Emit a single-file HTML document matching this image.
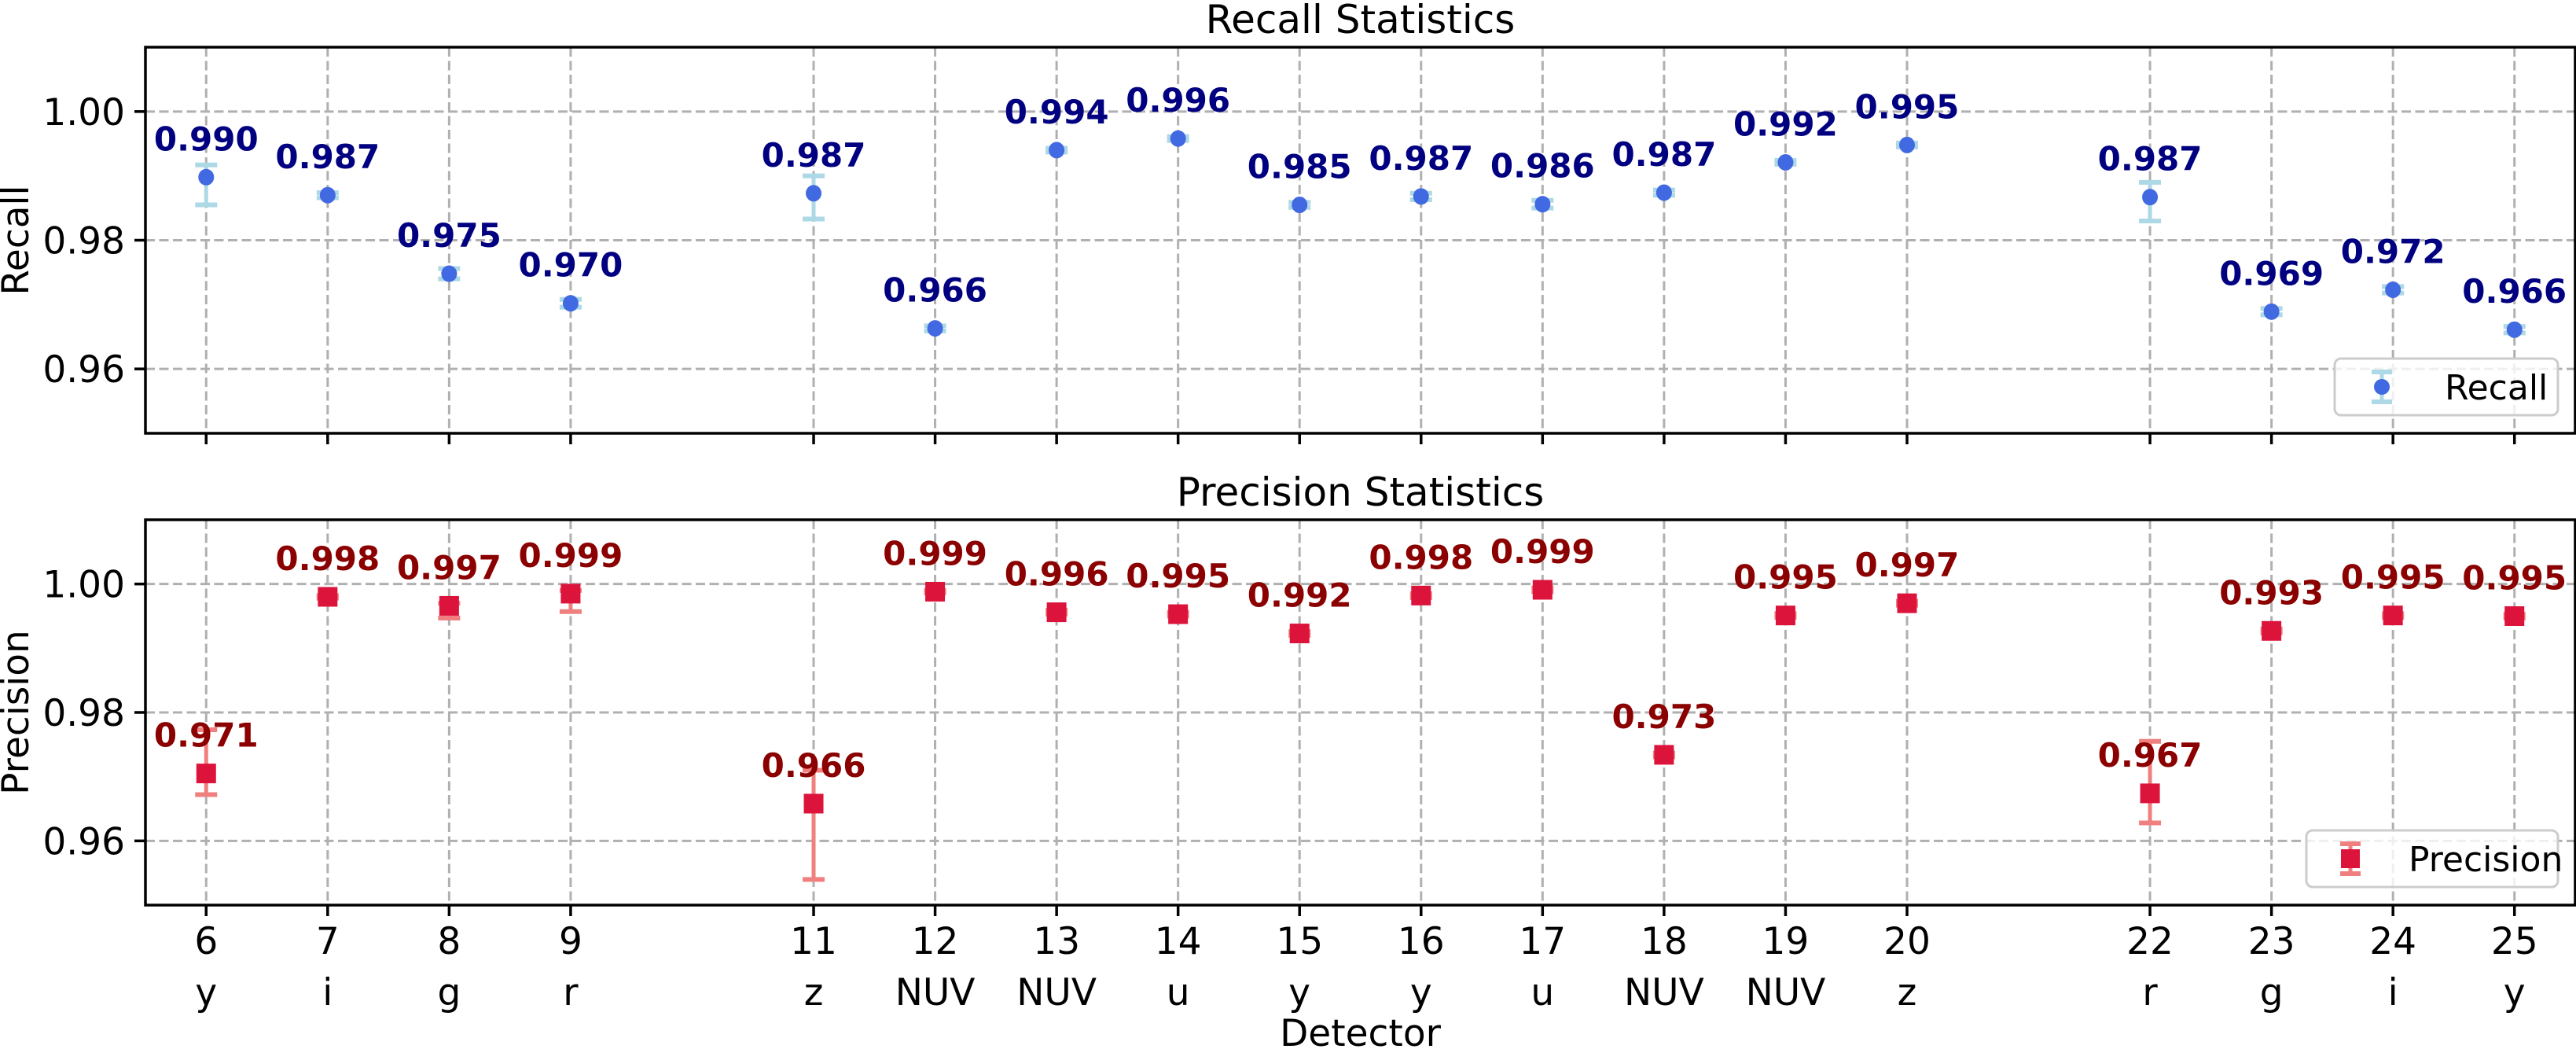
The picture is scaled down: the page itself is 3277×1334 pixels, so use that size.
<!DOCTYPE html>
<html><head><meta charset="utf-8"><style>
html,body{margin:0;padding:0;background:#fff;}
svg{display:block;font-family:"DejaVu Sans","Liberation Sans",sans-serif;}
</style></head><body>
<svg id="chart" width="3277" height="1334" viewBox="0 0 3277 1334" xmlns="http://www.w3.org/2000/svg"></svg>
<script>
const detectors = [6,7,8,9,11,12,13,14,15,16,17,18,19,20,22,23,24,25];
const filters = ["y","i","g","r","z","NUV","NUV","u","y","y","u","NUV","NUV","z","r","g","i","y"];
const recall = [0.9898,0.9870,0.9748,0.9702,0.9873,0.9663,0.9940,0.9958,0.9855,0.9868,0.9856,0.9874,0.9921,0.9948,0.9867,0.9689,0.9723,0.9661];
const recallLow = [0.9855,0.9866,0.9740,0.9696,0.9833,0.9659,0.9937,0.9955,0.9851,0.9863,0.9850,0.9870,0.9918,0.9945,0.9830,0.9684,0.9718,0.9656];
const recallHigh = [0.9917,0.9874,0.9756,0.9708,0.9900,0.9667,0.9943,0.9961,0.9859,0.9873,0.9862,0.9878,0.9924,0.9951,0.9890,0.9694,0.9728,0.9666];
const recallText = ["0.990","0.987","0.975","0.970","0.987","0.966","0.994","0.996","0.985","0.987","0.986","0.987","0.992","0.995","0.987","0.969","0.972","0.966"];
const precision = [0.9705,0.9980,0.9966,0.9985,0.9658,0.9988,0.9956,0.9953,0.9923,0.9982,0.9991,0.9734,0.9951,0.9970,0.9674,0.9927,0.9951,0.9950];
const precLow = [0.9672,0.9978,0.9947,0.9957,0.9540,0.9986,0.9953,0.9950,0.9920,0.9979,0.9988,0.9731,0.9948,0.9967,0.9628,0.9924,0.9948,0.9947];
const precHigh = [0.9773,0.9982,0.9970,0.9990,0.9710,0.9990,0.9959,0.9956,0.9926,0.9985,0.9994,0.9737,0.9954,0.9973,0.9755,0.9930,0.9954,0.9953];
const precText = ["0.971","0.998","0.997","0.999","0.966","0.999","0.996","0.995","0.992","0.998","0.999","0.973","0.995","0.997","0.967","0.993","0.995","0.995"];
const yTicks = [0.96,0.98,1.00];
const yTickLabels = ["0.96","0.98","1.00"];

const NS = "http://www.w3.org/2000/svg";
const svg = document.getElementById('chart');
const L = 185, R = 3276;
const xMin = 5.5, xMax = 25.5, yMin = 0.95, yMax = 1.01;
function xs(v){ return L + (v - xMin) / (xMax - xMin) * (R - L); }
function mk(tag, attrs, parent){ const e = document.createElementNS(NS, tag); for (const k in attrs) e.setAttribute(k, attrs[k]); (parent||svg).appendChild(e); return e; }

function panel(top, bottom, title, ylabel, vals, lo, hi, txt, cfg, showXLabels){
  const ys = v => bottom - (v - yMin) / (yMax - yMin) * (bottom - top);
  const g = mk('g', {});
  
  
  yTicks.forEach((t, i) => {
    const gl = mk('line', {x1:L, x2:R, y1:ys(t), y2:ys(t), stroke:'#b0b0b0', 'stroke-width':3, 'stroke-dasharray':'12,5.5'}, g);
    
    
    const tk = mk('line', {x1:L-14, x2:L, y1:ys(t), y2:ys(t), stroke:'#000', 'stroke-width':3.5}, g);
    
    
    const tl = mk('text', {x:L-26, y:ys(t)+17, 'text-anchor':'end', 'font-size':47, fill:'#000'}, g);
    tl.textContent = yTickLabels[i];
    
    
  });
  detectors.forEach((d, i) => {
    const gl = mk('line', {x1:xs(d), x2:xs(d), y1:top, y2:bottom, stroke:'#b0b0b0', 'stroke-width':3, 'stroke-dasharray':'12,5.5'}, g);
    
    
    const tk = mk('line', {x1:xs(d), x2:xs(d), y1:bottom, y2:bottom+14, stroke:'#000', 'stroke-width':3.5}, g);
    
    
    if (showXLabels) {
      const t1 = mk('text', {x:xs(d), y:bottom+62, 'text-anchor':'middle', 'font-size':47, fill:'#000'}, g);
      t1.textContent = String(d);
      
      
      const t2 = mk('text', {x:xs(d), y:bottom+127, 'text-anchor':'middle', 'font-size':47, fill:'#000'}, g);
      t2.textContent = filters[i];
      
      
    }
  });
  vals.forEach((v, i) => {
    const x = xs(detectors[i]);
    const eb = mk('line', {x1:x, x2:x, y1:ys(lo[i]), y2:ys(hi[i]), stroke:cfg.err, 'stroke-width':5}, g);
    
    
    [lo[i], hi[i]].forEach(c => {
      const cap = mk('line', {x1:x-14, x2:x+14, y1:ys(c), y2:ys(c), stroke:cfg.err, 'stroke-width':6}, g);
      
      
    });
    let m;
    if (cfg.shape === 'circle') m = mk('ellipse', {cx:x, cy:ys(v), rx:10, ry:10.5, fill:cfg.marker}, g);
    else m = mk('rect', {x:x-12.5, y:ys(v)-12.5, width:25, height:25, fill:cfg.marker}, g);
    
    
    const vl = mk('text', {x:x, y:ys(v)-34, 'text-anchor':'middle', 'font-size':42, 'font-weight':'bold', fill:cfg.label}, g);
    vl.textContent = txt[i];
    
    
  });
  const fr = mk('rect', {x:L, y:top, width:R-L, height:bottom-top, fill:'none', stroke:'#000', 'stroke-width':3.5}, g);
  
  
  const tt = mk('text', {x:(L+R)/2, y:top-18, 'text-anchor':'middle', 'font-size':50, fill:'#000'}, g);
  tt.textContent = title;
  
  
  const yl = mk('text', {x:0, y:0, 'text-anchor':'middle', 'font-size':47, fill:'#000', transform:'translate(36,' + ((top+bottom)/2) + ') rotate(-90)'}, g);
  yl.textContent = ylabel;
  
  
  const lg = mk('g', {}, g);
  
  
  const bx = cfg.legX, by = bottom - 23 - 72;
  mk('rect', {x:bx, y:by, width:3254-bx, height:72, rx:8, fill:'#fff', 'fill-opacity':0.8, stroke:'#cccccc', 'stroke-width':3}, lg);
  const mx = cfg.legMX, my = by + 36;
  mk('line', {x1:mx, x2:mx, y1:my-19, y2:my+19, stroke:cfg.err, 'stroke-width':5}, lg);
  mk('line', {x1:mx-13, x2:mx+13, y1:my-19, y2:my-19, stroke:cfg.err, 'stroke-width':6}, lg);
  mk('line', {x1:mx-13, x2:mx+13, y1:my+19, y2:my+19, stroke:cfg.err, 'stroke-width':6}, lg);
  if (cfg.shape === 'circle') mk('ellipse', {cx:mx, cy:my, rx:10, ry:10, fill:cfg.marker}, lg);
  else mk('rect', {x:mx-12, y:my-12, width:24, height:24, fill:cfg.marker}, lg);
  const lt = mk('text', {x:cfg.legTX, y:my+16, 'font-size':44, fill:'#000'}, lg);
  lt.textContent = cfg.legText;
  
  
}

panel(60, 551, 'Recall Statistics', 'Recall', recall, recallLow, recallHigh, recallText,
  {name:'recall', err:'#add8e6', marker:'#4169e1', label:'#000080', shape:'circle', legX:2970, legMX:3030, legTX:3110, legText:'Recall'}, false);
panel(661, 1151, 'Precision Statistics', 'Precision', precision, precLow, precHigh, precText,
  {name:'precision', err:'#f08080', marker:'#dc143c', label:'#8b0000', shape:'square', legX:2934, legMX:2990, legTX:3064, legText:'Precision'}, true);

const xt = mk('text', {x:(L+R)/2, y:1330, 'text-anchor':'middle', 'font-size':47, fill:'#000'});
xt.textContent = 'Detector';


</script>
</body></html>
